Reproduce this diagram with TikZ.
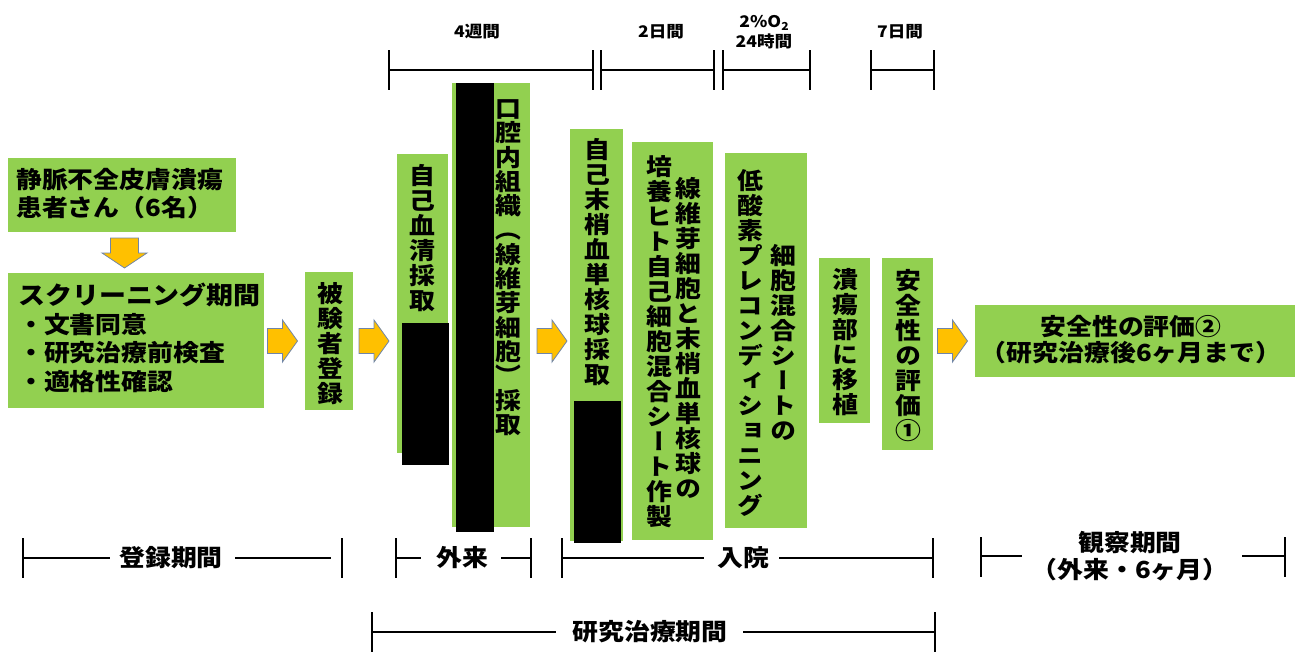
\documentclass[tikz,border=0pt]{standalone}
\usepackage{fontspec}
\setmainfont{Noto Sans CJK JP}[FakeStretch=1.1]
\newfontfamily\vjp{Noto Sans CJK JP}[FakeStretch=1.1,RawFeature={+vert}]
\definecolor{boxgreen}{HTML}{92D050}
\definecolor{arrfill}{HTML}{FFC000}
\definecolor{arrline}{HTML}{6F85A8}
\newlength\vpitch
\setlength\vpitch{25pt}
\def\vtstop{\vtstop}
\def\vtloop#1{\ifx#1\vtstop\else\vbox to\vpitch{\vss\hbox to 1.2em{\hss\vrule height .88em depth .12em width 0pt\relax#1\hss}\vss}\expandafter\vtloop\fi}
\newcommand\vt[1]{\vbox{\offinterlineskip\vtloop#1\vtstop}}
% block arrow pointing right, centred at (#1,#2)
\newcommand\rarr[2]{\draw[blockarr] ({#1-15},{#2-12.5}) -- ({#1},{#2-12.5}) -- ({#1},{#2-21}) -- ({#1+15},{#2}) -- ({#1},{#2+21}) -- ({#1},{#2+12.5}) -- ({#1-15},{#2+12.5}) -- cycle;}
\begin{document}
\begin{tikzpicture}[x=1pt,y=-1pt,
  gbox/.style={fill=boxgreen,draw=none,inner sep=0pt},
  blockarr/.style={fill=arrfill,draw=arrline,line width=0.8pt,line join=miter},
  redact/.style={fill=black,draw=none},
  brk/.style={line width=2.2pt,black},
  htext/.style={font=\bfseries\fontsize{23.5}{28}\selectfont,inner sep=0pt},
  vtext/.style={font=\vjp\bfseries\fontsize{23.5}{25}\selectfont,inner sep=0pt},
  lab/.style={font=\bfseries\fontsize{23.5}{27}\selectfont,inner sep=0pt,align=center},
  toplab/.style={font=\bfseries\fontsize{16}{20}\selectfont,inner sep=0pt,align=center}]
\useasboundingbox (0,0) rectangle (1296,651);

% --- left part
\node[gbox,minimum width=228pt,minimum height=74pt] (b1) at (122,195) {};
\node[htext,anchor=west,align=left] (b1t) at (16,194) {静脈不全皮膚潰瘍\\患者さん（6名）};
\draw[blockarr] (110.5,238) -- (138.5,238) -- (138.5,253) -- (147,253) -- (124.5,268) -- (102,253) -- (110.5,253) -- cycle;
\node[gbox,minimum width=256pt,minimum height=135pt] (b2) at (136,340.5) {};
\node[htext,anchor=west,align=left,font=\bfseries\fontsize{23.5}{28.5}\selectfont] (b2t) at (18,338)
  {{\fontsize{24.5}{28.5}\selectfont スクリーニング期間}\\・文書同意\\・研究治療前検査\\・適格性確認};
\rarr{282.5}{341}
\node[gbox,minimum width=48pt,minimum height=138pt] (b3) at (329,341) {};
\node[vtext] (b3t) at (330,344) {\vt{被験者登録}};
\rarr{374}{341}

% --- outpatient
\node[gbox,minimum width=51pt,minimum height=299pt] (b4) at (422.5,303.5) {};
\node[vtext] (b4t) at (422,238) {\vt{自己血清採取}};
\path[redact] (402,323) rectangle (449,465);
\node[gbox,minimum width=78pt,minimum height=444pt] (b5) at (491,305) {};
\node[vtext] (b5t) at (508,266.5) {\setlength\vpitch{24.3pt}\vt{口腔内組織（線維芽細胞）採取}};
\path[redact] (456,83) rectangle (494,532);
\rarr{552}{341}

% --- inpatient
\node[gbox,minimum width=53pt,minimum height=412pt] (b6) at (596.5,335) {};
\node[vtext] (b6t) at (597,262) {\vt{自己末梢血単核球採取}};
\path[redact] (574,401) rectangle (621,543);
\node[gbox,minimum width=81pt,minimum height=398pt] (b7) at (672.5,341) {};
\node[vtext] (b7r) at (688,339) {\vt{線維芽細胞と末梢血単核球の}};
\node[vtext] (b7l) at (659,342) {\vt{培養ヒト自己細胞混合シート作製}};
\node[gbox,minimum width=82pt,minimum height=375pt] (b8) at (766,340.5) {};
\node[vtext] (b8r) at (783,343) {\vt{細胞混合シートの}};
\node[vtext] (b8l) at (750,343) {\vt{低酸素プレコンディショニング}};
\node[gbox,minimum width=51pt,minimum height=165pt] (b9) at (844.5,340.5) {};
\node[vtext] (b9t) at (845,342) {\vt{潰瘍部に移植}};
\node[gbox,minimum width=51pt,minimum height=192pt] (b10) at (907.5,354) {};
\node[vtext] (b10t) at (908,356) {\vt{安全性の評価①}};
\rarr{952.5}{341}
\node[gbox,minimum width=320pt,minimum height=72pt] (b11) at (1135,341) {};
\node[htext,align=center,font=\bfseries\fontsize{23.5}{26}\selectfont] (b11t) at (1131,340) {安全性の評価②\\（研究治療後6ヶ月まで）};

% --- top timeline
\node[toplab] (w4) at (477,32) {4週間};
\node[toplab] (d2) at (661,32) {2日間};
\node[toplab] (o2) at (764,32) {2\%O\raisebox{-0.22em}{\fontsize{11}{10}\selectfont 2}\\24時間};
\node[toplab] (d7) at (900,32) {7日間};
\draw[brk] (389,50) -- (389,90);
\draw[brk] (593,50) -- (593,90);
\draw[brk] (389,70) -- (593,70);
\draw[brk] (601,50) -- (601,90);
\draw[brk] (714,50) -- (714,90);
\draw[brk] (601,70) -- (714,70);
\draw[brk] (723,50) -- (723,90);
\draw[brk] (810,50) -- (810,90);
\draw[brk] (723,70) -- (810,70);
\draw[brk] (871,50) -- (871,90);
\draw[brk] (934,50) -- (934,90);
\draw[brk] (871,70) -- (934,70);

% --- bottom brackets
\node[lab] (p1) at (171,558) {登録期間};
\draw[brk] (23,538) -- (23,578);
\draw[brk] (342,538) -- (342,578);
\draw[brk] (23,558) -- (110,558);
\draw[brk] (235,558) -- (331,558);

\node[lab] (p2) at (462,558) {外来};
\draw[brk] (396,538) -- (396,578);
\draw[brk] (531,538) -- (531,578);
\draw[brk] (396,558) -- (421,558);
\draw[brk] (501,558) -- (531,558);

\node[lab] (p3) at (743,558) {入院};
\draw[brk] (562,538) -- (562,578);
\draw[brk] (933,538) -- (933,578);
\draw[brk] (562,558) -- (704,558);
\draw[brk] (779,558) -- (933,558);

\node[lab] (p4) at (1130,556) {観察期間\\（外来・6ヶ月）};
\draw[brk] (981,537) -- (981,577);
\draw[brk] (1285,537) -- (1285,577);
\draw[brk] (981,556) -- (1022,556);
\draw[brk] (1242,556) -- (1285,556);

\node[lab] (p5) at (650,632) {研究治療期間};
\draw[brk] (372,612) -- (372,652);
\draw[brk] (935,612) -- (935,652);
\draw[brk] (372,632) -- (556,632);
\draw[brk] (743,632) -- (935,632);
\end{tikzpicture}
\end{document}
